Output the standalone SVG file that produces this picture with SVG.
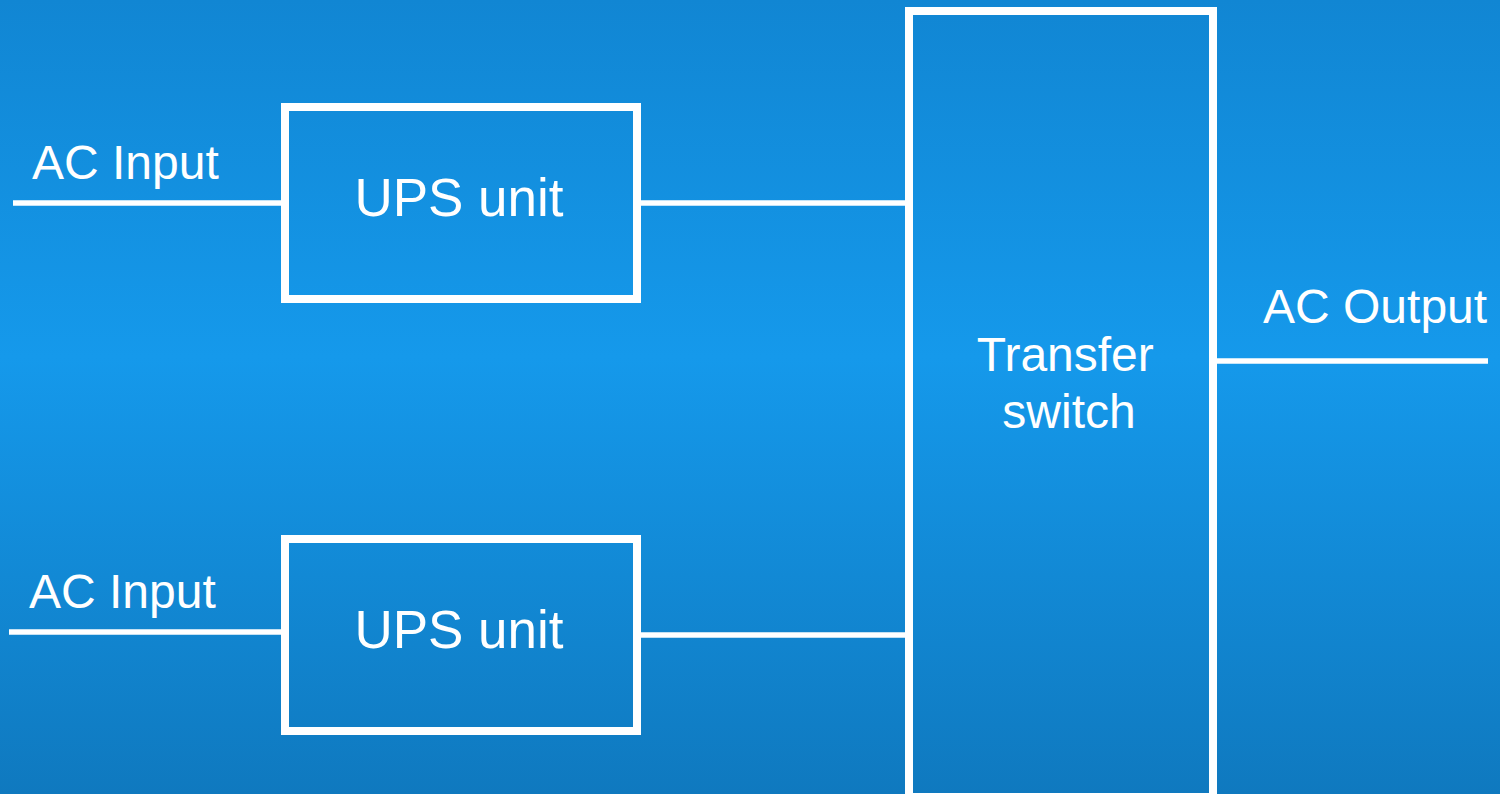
<svg xmlns="http://www.w3.org/2000/svg" width="1500" height="794" viewBox="0 0 1500 794">
  <defs>
    <linearGradient id="bg" x1="0" y1="0" x2="0" y2="1">
      <stop offset="0" stop-color="#1186d3"/>
      <stop offset="0.45" stop-color="#1599eb"/>
      <stop offset="1" stop-color="#0f79bf"/>
    </linearGradient>
  </defs>
  <style>
    .box { fill: none; stroke: #ffffff; stroke-width: 8; }
    .wire { stroke: #ffffff; stroke-width: 5.5; fill: none; }
    .lbl { fill: #ffffff; font-family: "Liberation Sans", Arial, sans-serif; font-size: 48px; }
    .mid { text-anchor: middle; }
  </style>

  <rect x="0" y="0" width="1500" height="794" fill="url(#bg)"/>

  <!-- wiring between inputs, UPS units, switch and output -->
  <g id="connectors">
    <line class="wire" x1="13" y1="203" x2="285" y2="203"/>
    <line class="wire" x1="9" y1="632" x2="285" y2="632"/>
    <line class="wire" x1="637" y1="203" x2="909" y2="203"/>
    <line class="wire" x1="637" y1="635" x2="909" y2="635"/>
    <line class="wire" x1="1213" y1="361" x2="1488" y2="361"/>
  </g>

  <g id="input-top">
    <text class="lbl" x="32" y="179">AC Input</text>
  </g>
  <g id="input-bottom">
    <text class="lbl" x="29" y="608">AC Input</text>
  </g>

  <g id="ups-top">
    <rect class="box" x="285" y="107" width="352" height="192"/>
    <text class="lbl mid" x="459" y="216" style="font-size:53px">UPS unit</text>
  </g>
  <g id="ups-bottom">
    <rect class="box" x="285" y="539" width="352" height="192"/>
    <text class="lbl mid" x="459" y="648" style="font-size:53px">UPS unit</text>
  </g>

  <g id="transfer-switch">
    <rect class="box" x="909" y="11" width="304" height="786"/>
    <text class="lbl mid">
      <tspan x="1072" y="371">Transfer</tspan>
      <tspan x="1069" y="428">switch</tspan>
    </text>
  </g>

  <g id="output">
    <text class="lbl" x="1263" y="323">AC Output</text>
  </g>
</svg>
